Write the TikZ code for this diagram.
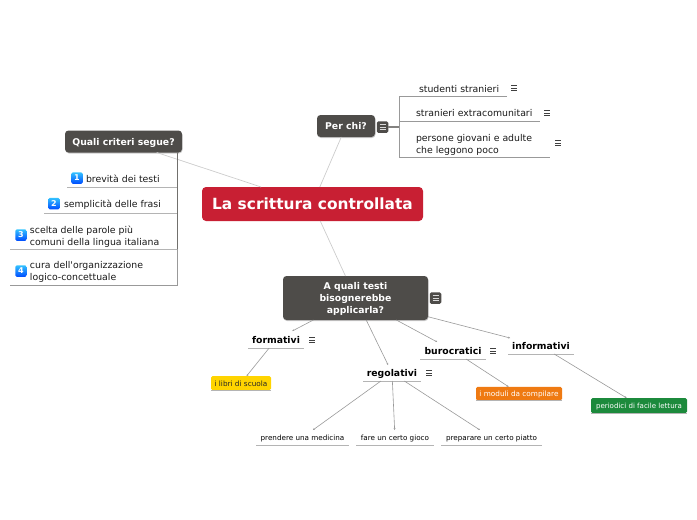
\documentclass[tikz,border=0pt]{standalone}
\usepackage{fontspec}
\setmainfont{DejaVu Sans}
\newfontfamily\straightfont{DejaVu Sans}
\usetikzlibrary{arrows.meta,shadows}
\definecolor{darknode}{HTML}{4E4C49}
\definecolor{mainred}{HTML}{C81F33}
\definecolor{yel}{HTML}{FFD400}
\definecolor{ora}{HTML}{EF7A12}
\definecolor{grn}{HTML}{1C8A3C}
\definecolor{ulgray}{HTML}{B4B4B4}
\definecolor{linkgray}{HTML}{999999}
\tikzset{
  softshadow/.style={drop shadow={shadow xshift=0.5pt,shadow yshift=-1pt,opacity=.2,fill=black}},
  darkbox/.style={rectangle,rounded corners=3.5pt,fill=darknode,text=white,font=\fontsize{9.3}{11.7}\selectfont\bfseries,align=center,inner sep=0pt,outer sep=0pt,text depth=0pt,softshadow},
  mainbox/.style={rectangle,rounded corners=4pt,fill=mainred,text=white,font=\fontsize{15.4}{18}\selectfont\bfseries,inner sep=0pt,outer sep=0pt,text depth=0pt},
  topicbox/.style={rectangle,inner sep=0pt,outer sep=0pt,font=\fontsize{9.3}{12}\selectfont\bfseries,text height=8pt,text depth=.5pt},
  leafbox/.style={rectangle,inner sep=0pt,outer sep=0pt,font=\fontsize{7.2}{10}\selectfont,text height=6.5pt,text depth=.5pt},
  chipbox/.style={rectangle,rounded corners=1.5pt,inner sep=0pt,outer sep=0pt,font=\fontsize{7.3}{10}\selectfont,text height=6.5pt,text depth=.5pt},
  plain/.style={inner sep=0pt,outer sep=0pt,font=\fontsize{9.35}{12}\selectfont,align=left,text=black!90},
  ul/.style={draw=ulgray,line width=1pt},
  ularrow/.style={draw=linkgray,line width=.6pt,-{Stealth[length=2pt,width=2pt]}},
  mainlink/.style={draw=black!20,line width=.7pt},
  badge/.style={rectangle,rounded corners=1.5pt,minimum size=11.5pt,inner sep=0pt,outer sep=0pt,top color=cyan!70!blue!80,bottom color=blue!70!cyan,text=white,font=\fontsize{8}{8}\selectfont\bfseries},
  iconbox/.style={rectangle,rounded corners=1.5pt,minimum size=11.5pt,inner sep=0pt,outer sep=0pt,fill=darknode},
  pics/menuicon/.style={code={
    \draw[line width=.65pt,#1] (-3,-2.7) -- (3,-2.7) (-3,0) -- (3,0) (-3,2.7) -- (3,2.7);
  }},
}
\begin{document}
\begin{tikzpicture}[x=1pt,y=-1pt]
\useasboundingbox (0,0) rectangle (697,520);

% central nodes
\node[mainbox,minimum width=221pt,minimum height=34pt] (main) at (312.5,204) {La scrittura controllata};
\node[darkbox,minimum width=58pt,minimum height=22pt] (perchi) at (346,126) {Per chi?};
\node[darkbox,minimum width=117pt,minimum height=22pt] (quali) at (123.5,141.5) {Quali criteri segue?};
\node[darkbox,minimum width=145pt,minimum height=44pt] (aquali) at (355.5,298) {A quali testi\\bisognerebbe\\applicarla?};

\draw[mainlink] (main) -- (perchi);
\draw[mainlink] (main) -- (quali);
\draw[mainlink] (main) -- (aquali);

% icon boxes
\node[iconbox] (iconp) at (382.5,127) {};
\pic at (iconp) {menuicon=white!85!black};
\node[iconbox] (icona) at (435.5,298) {};
\pic at (icona) {menuicon=white!85!black};

% right branch
\coordinate (rbranch) at (399,127);
\draw[draw=darknode!70,line width=1.2pt] (iconp.east) -- (rbranch);
\node[plain,anchor=west] (r1) at (419,89.3) {studenti stranieri};
\node[plain,anchor=west] (r2) at (416,113.3) {stranieri extracomunitari};
\node[plain,anchor=west] (r3) at (416,145) {persone giovani e adulte\\che leggono poco};
\coordinate (r1a) at (399,96);
\coordinate (r1b) at (507,96);
\coordinate (r2a) at (399,121);
\coordinate (r2b) at (540,121);
\coordinate (r3a) at (399,157);
\coordinate (r3b) at (550,157);
\draw[draw=linkgray,line width=.8pt] (r1b) -- (r1a) -- (r3a) -- (r3b);
\draw[draw=linkgray,line width=.8pt] (r2a) -- (r2b);
\pic at (514,88) {menuicon=black!75};
\pic at (547,113) {menuicon=black!75};
\pic at (558,143) {menuicon=black!75};

% left branch
\coordinate (ltree) at (177,152);
\coordinate (l1) at (67,187);
\coordinate (l2) at (44,213);
\coordinate (l3) at (10,249);
\coordinate (l4) at (10,285);
\draw[draw=ulgray,line width=1pt] (l1) -- (l1 -| ltree);
\draw[draw=ulgray,line width=1pt] (l2) -- (l2 -| ltree);
\draw[draw=ulgray,line width=1pt] (l3) -- (l3 -| ltree);
\draw[draw=linkgray,line width=1pt] (l4) -- (l4 -| ltree) -- (l3 -| ltree);
\draw[draw=darknode!80,line width=1pt] (ltree) -- (l3 -| ltree);
\node[badge] (b1) at (77,178) {1};
\node[badge] (b2) at (54,203.5) {2};
\node[badge] (b3) at (21,235) {3};
\node[badge] (b4) at (21,271) {4};
\node[plain,anchor=west] (t1) at (86,179) {brevità dei testi};
\node[plain,anchor=west] (t2) at (64,204.3) {semplicità delle frasi};
\node[plain,anchor=west] (t3) at (30,236.3) {scelta delle parole più\\comuni della lingua italiana};
\node[plain,anchor=west] (t4) at (30,272.3) {cura dell{\straightfont '}organizzazione\\logico-concettuale};

% lower topics
\node[topicbox,minimum width=56pt,minimum height=17pt] (form) at (276,339.5) {formativi};
\node[topicbox,minimum width=58pt,minimum height=16pt] (rego) at (392,373) {regolativi};
\node[topicbox,minimum width=66pt,minimum height=17pt] (buro) at (453,350.5) {burocratici};
\node[topicbox,minimum width=66pt,minimum height=16pt] (info) at (541,346) {informativi};
\foreach \n in {form,rego,buro,info}{\draw[ul] (\n.south west) -- (\n.south east);}
\pic at (312,340) {menuicon=black!75};
\pic at (429,373) {menuicon=black!75};
\pic at (493,351) {menuicon=black!75};

% chips
\node[chipbox,fill=yel,text=black!85,minimum width=60pt,minimum height=14pt] (libri) at (241,383) {i libri di scuola};
\node[chipbox,fill=ora,text=white,minimum width=86pt,minimum height=13.5pt] (moduli) at (519,393.5) {i moduli da compilare};
\node[chipbox,fill=grn,text=white,minimum width=96pt,minimum height=15pt] (period) at (639,405.5) {\fontsize{7.05}{10}\selectfont periodici di facile lettura};
\foreach \n in {libri,moduli,period}{\draw[ul] ([yshift=-.5pt]\n.south west) -- ([yshift=-.5pt]\n.south east);}

% leaves
\node[leafbox,minimum width=93pt,minimum height=15pt] (pren) at (302.5,437.5) {prendere una medicina};
\node[leafbox,minimum width=78pt,minimum height=15pt] (fare) at (395,437.5) {fare un certo gioco};
\node[leafbox,minimum width=101pt,minimum height=15pt] (prep) at (491.5,437.5) {preparare un certo piatto};
\foreach \n in {pren,fare,prep}{\draw[ul] (\n.south west) -- (\n.south east);}

% links
\draw[ularrow] (aquali) -- (form);
\draw[ularrow] (aquali) -- (rego);
\draw[ularrow] (aquali) -- (buro);
\draw[ularrow] (aquali) -- (info);
\draw[ularrow] (form) -- (libri);
\draw[ularrow] (buro) -- (moduli);
\draw[ularrow] (info) -- (period);
\draw[ularrow] (rego) -- (pren);
\draw[ularrow] (rego) -- (fare);
\draw[ularrow] (rego) -- (prep);
\end{tikzpicture}
\end{document}
